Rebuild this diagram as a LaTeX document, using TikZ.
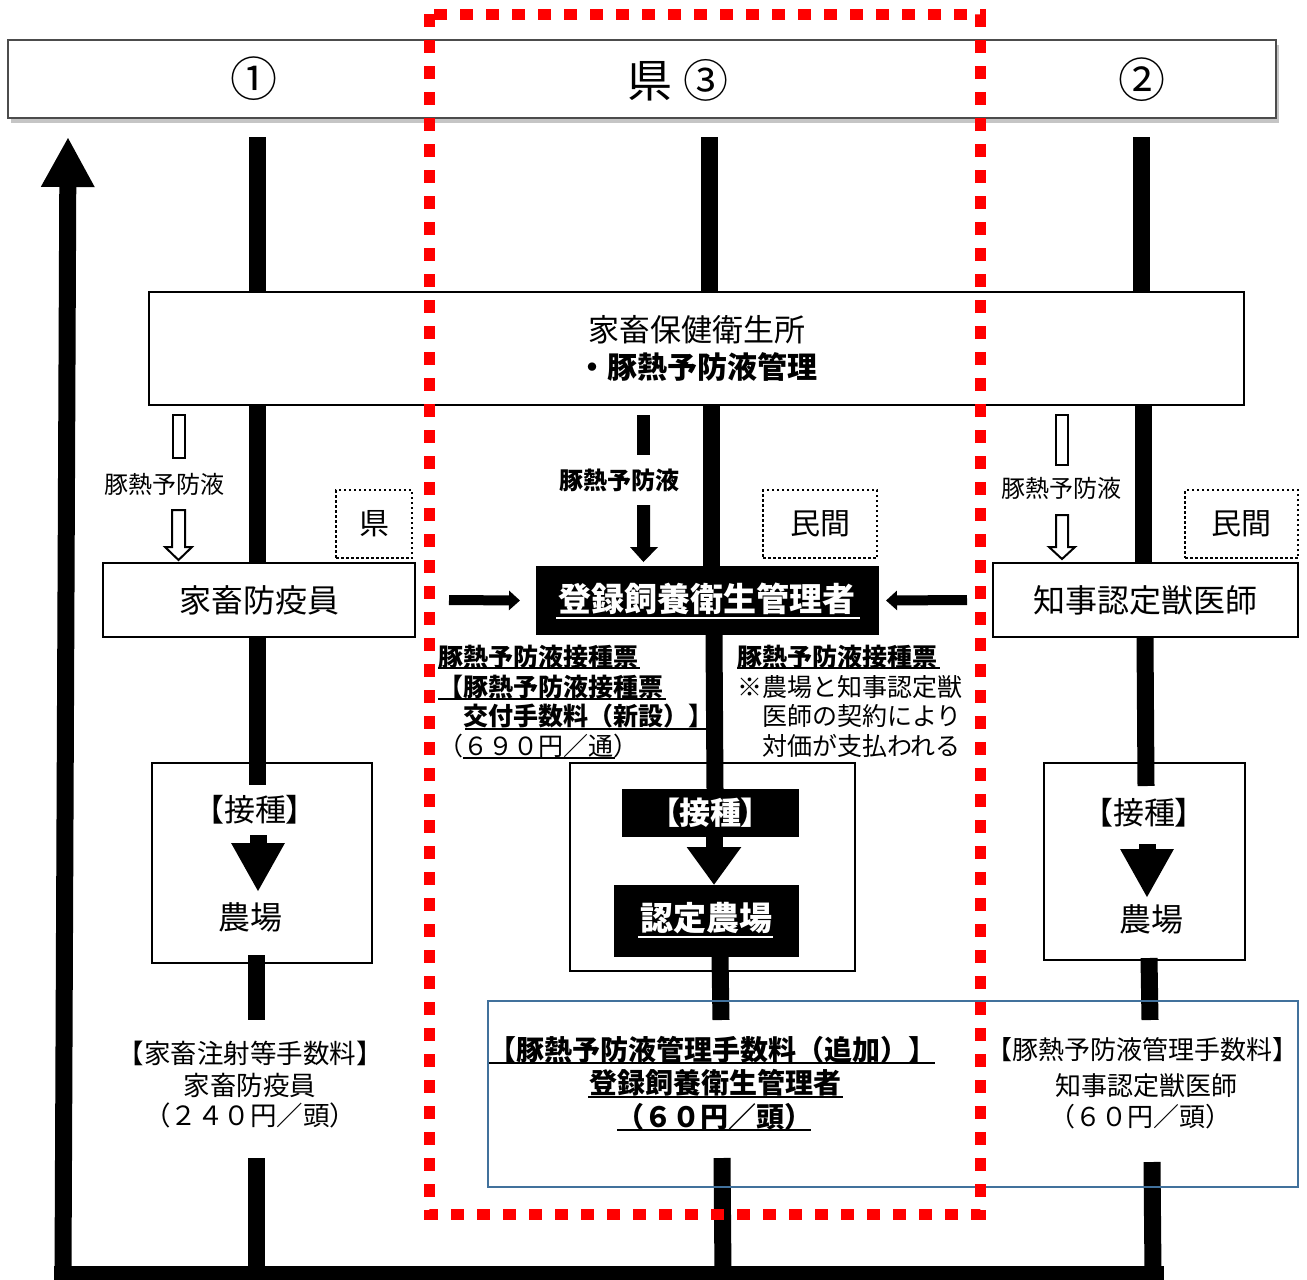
\documentclass[tikz,border=0pt]{standalone}
\usepackage{fontspec}
\setmainfont{Noto Sans CJK JP}
\newfontfamily\jpp{Noto Sans CJK JP}[RawFeature=+palt]
\usetikzlibrary{shadows,arrows.meta}
\newcommand\jfs[1]{\fontsize{#1}{#1}\selectfont}
\definecolor{bluec}{HTML}{41719C}
\definecolor{redc}{HTML}{FF0000}
\begin{document}
\begin{tikzpicture}[x=1pt,y=-1pt,
  bar/.style={line width=17pt},
  box/.style={draw,line width=2pt,fill=white,inner sep=0pt,outer sep=0pt},
  blk/.style={fill=black,inner sep=0pt,outer sep=0pt,text=white},
  dbox/.style={draw,line width=2.5pt,dash pattern=on 2.5pt off 2.5pt,inner sep=0pt,outer sep=0pt},
  txt/.style={inner sep=0pt,outer sep=0pt},
  ul/.style={line width=1.8pt},
  hollow/.style={draw,line width=2pt,fill=white},
  harrow/.style={line width=10pt,-{Triangle[width=19pt,length=11pt]}},
  reddash/.style={draw=redc,line width=11pt,dash pattern=on 13pt off 13pt},
]
\useasboundingbox (0,0) rectangle (1307,1280);
\fill[white] (0,0) rectangle (1307,1280);

% header
\node[draw=black!70,line width=1.2pt,fill=white,minimum width=1268pt,minimum height=78pt,inner sep=0pt,
      drop shadow={shadow xshift=3pt,shadow yshift=-5pt,fill=black!45}] (hdr) at (642,79) {};
\node[txt] (n1) at (254,79) {\jfs{47pt}①};
\node[txt] (n3) at (678,80) {\jfs{45pt}県 ③};
\node[txt] (n2) at (1142,80) {\jfs{47pt}②};

% boxes
\node[box,minimum width=1095pt,minimum height=113pt] (hoken) at (696.5,348.5) {};
\node[txt] (hokenA) at (697,330) {\jfs{31pt}家畜保健衛生所};
\node[txt] (hokenB) at (697,367) {\jfs{30pt}\bfseries ・豚熱予防液管理};

% column bars
\draw[bar] (257,137) -- (hoken.north -| 257,0);
\draw[bar] (709,137) -- (hoken.north -| 709,0);
\draw[bar] (1141,137) -- (hoken.north -| 1141,0);

\node[box,minimum width=312pt,minimum height=74pt] (bokin) at (259,600) {\jfs{32pt}家畜防疫員};
\node[box,minimum width=305pt,minimum height=74pt] (chiji) at (1145.5,600) {\jfs{32pt}知事認定獣医師};
\node[blk,minimum width=343pt,minimum height=69pt] (touroku) at (707.5,600.5) {};
\node[txt,text=white] (tourokuT) at (707,599) {\jfs{33pt}\bfseries 登録飼養衛生管理者};
\draw[white,line width=2pt] (556,618) -- (860,618);

\draw[bar] (hoken.south -| 257,0) -- (bokin.north -| 257,0);
\draw[bar] (hoken.south -| 711,0) -- (touroku.north -| 711,0);
\draw[bar] (hoken.south -| 1143,0) -- (chiji.north -| 1143,0);

\node[dbox,minimum width=76pt,minimum height=68pt] (ken) at (374,524) {\jfs{30pt}県};
\node[dbox,minimum width=114pt,minimum height=68pt] (min1) at (820,524) {\jfs{30pt}民間};
\node[dbox,minimum width=113pt,minimum height=68pt] (min2) at (1241.5,524) {\jfs{30pt}民間};

% vaccine arrows
\node[txt] (lblL) at (164,484) {\jfs{24pt}豚熱予防液};
\node[txt] (lblR) at (1061,488) {\jfs{24pt}豚熱予防液};
\node[txt] (lblC) at (619,480) {\jfs{24pt}\bfseries 豚熱予防液};
\draw[hollow] (173,415) rectangle (185,458);
\draw[hollow] (172,510) -- (185,510) -- (185,547) -- (192,547) -- (178.5,560) -- (165,547) -- (172,547) -- cycle;
\draw[hollow] (1056,415) rectangle (1068,465);
\draw[hollow] (1056,515) -- (1068,515) -- (1068,547) -- (1075,547) -- (1062,559) -- (1049,547) -- (1056,547) -- cycle;
\fill (637,415) rectangle (650,455);
\fill (637,505) -- (650,505) -- (650,547) -- (658,547) -- (643.5,562) -- (630,547) -- (637,547) -- cycle;

% horizontal arrows
\draw[harrow] ([xshift=34pt]bokin.east) -- ([xshift=-16pt]touroku.west);
\draw[harrow] ([xshift=-26pt]chiji.west) -- ([xshift=7pt]touroku.east);

% farm boxes
\node[box,minimum width=220pt,minimum height=200pt] (farmL) at (262,863) {};
\node[box,minimum width=285pt,minimum height=208pt] (farmC) at (712.5,867) {};
\node[box,minimum width=201pt,minimum height=197pt] (farmR) at (1144.5,861.5) {};

\draw[bar] (bokin.south -| 257,0) -- (257,785);
\draw[bar] (touroku.south -| 714,0) -- (715,789);
\draw[bar] (chiji.south -| 1145,0) -- (1146,786);

\node[txt] (sesL) at (255,810) {\jfs{31pt}\jpp 【接種】};
\node[txt] (noL) at (250,917) {\jfs{32pt}農場};
\node[txt] (sesR) at (1144,813) {\jfs{31pt}\jpp 【接種】};
\node[txt] (noR) at (1151,919) {\jfs{32pt}農場};
\node[blk,minimum width=177pt,minimum height=48pt] (sesC) at (710.5,813) {\jfs{31pt}\jpp\bfseries 【接種】};
\node[blk,minimum width=185pt,minimum height=72pt] (ninC) at (706.5,921) {};
\node[txt,text=white] (ninCT) at (706,918) {\jfs{33pt}\bfseries 認定農場};
\draw[white,line width=2pt] (638,937) -- (773,937);

\draw[bar,-{Triangle[width=50pt,length=49pt]}] (258,835) -- (258,892);
\draw[bar,-{Triangle[width=52pt,length=38pt]}] (sesC.south -| 714,0) -- (ninC.north -| 714,0);
\draw[bar,-{Triangle[width=50pt,length=49pt]}] (1147,844) -- (1147,898);

\draw[bar] (farmL.south -| 256,0) ++(0,-8) -- (256,1020);
\draw[bar] (ninC.south -| 720,0) -- (721,1020);
\draw[bar] (farmR.south -| 1149,0) ++(0,-2) -- (1150,1020);
\draw[bar] (256,1158) -- (256,1273);
\draw[bar] (722,1158) -- (723,1273);
\draw[bar] (1152,1162) -- (1153,1273);

% bottom bar and return arrow
\fill (54,1266) rectangle (1164,1280);
\draw[line width=17pt,-{Triangle[width=50pt,length=50pt]}] (63,1274) -- (68,137);

% text blocks under 登録
\node[txt,anchor=west] (la1) at (438,657) {\jfs{25pt}\bfseries 豚熱予防液接種票};
\node[txt,anchor=west] (la2) at (438,687) {\jfs{25pt}\bfseries 【豚熱予防液接種票};
\node[txt,anchor=west] (la3) at (438,716) {\jfs{25pt}\bfseries 　交付手数料（新設）】};
\node[txt,anchor=west] (la4) at (438,746) {\jfs{25pt}（６９０円／通）};
\draw[ul] (438,668) -- (640,668);
\draw[ul] (438,699) -- (666,699);
\draw[ul] (465,729) -- (706,729);
\draw[ul] (463,758) -- (615,758);

\node[txt,anchor=west] (ra1) at (737,657) {\jfs{25pt}\bfseries 豚熱予防液接種票};
\node[txt,anchor=west] (ra2) at (737,687) {\jfs{25pt}※農場と知事認定獣};
\node[txt,anchor=west] (ra3) at (737,716) {\jfs{25pt}　医師の契約により};
\node[txt,anchor=west] (ra4) at (737,746) {\jfs{25pt}　対価が支払われる};
\draw[ul] (737,668) -- (940,668);

% fee texts
\node[txt] (fl1) at (250,1053) {\jfs{26.5pt}【家畜注射等手数料】};
\node[txt] (fl2) at (250,1085) {\jfs{26.5pt}家畜防疫員};
\node[txt] (fl3) at (250,1115) {\jfs{26.5pt}（２４０円／頭）};

\node[txt] (fc1) at (712,1050) {\jfs{28pt}\bfseries 【豚熱予防液管理手数料（追加）】};
\node[txt] (fc2) at (715,1083) {\jfs{28pt}\bfseries 登録飼養衛生管理者};
\node[txt] (fc3) at (714,1117) {\jfs{28pt}\bfseries （６０円／頭）};
\draw[ul] (489,1063) -- (935,1063);
\draw[ul] (588,1097) -- (843,1097);
\draw[ul] (617,1130) -- (811,1130);

\node[txt] (fr1) at (1142,1050) {\jfs{26pt}【豚熱予防液管理手数料】};
\node[txt] (fr2) at (1146,1086) {\jfs{26pt}知事認定獣医師};
\node[txt] (fr3) at (1140,1117) {\jfs{26pt}（６０円／頭）};

% blue frame
\node[draw=bluec,line width=2.5pt,minimum width=810pt,minimum height=186pt,inner sep=0pt] (feebox) at (893,1094) {};

% red dashed frame
\draw[reddash] (429,14) rectangle (980,1214);
\end{tikzpicture}
\end{document}
